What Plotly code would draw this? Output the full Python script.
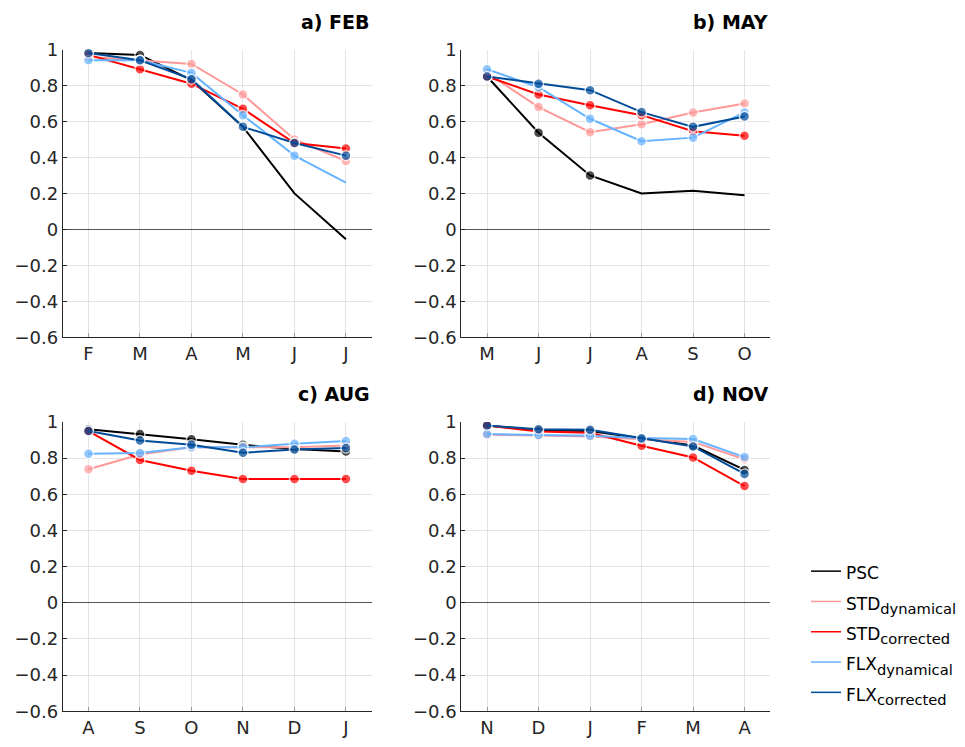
import plotly.graph_objects as go

# ---------------- data ----------------
FEB_LABELS = ["F", "M", "A", "M", "J", "J"]
MAY_LABELS = ["M", "J", "J", "A", "S", "O"]
AUG_LABELS = ["A", "S", "O", "N", "D", "J"]
NOV_LABELS = ["N", "D", "J", "F", "M", "A"]

FEB_PSC = [0.98, 0.97, 0.83, 0.57, 0.20, -0.055]
FEB_STD_DYN = [0.96, 0.94, 0.92, 0.75, 0.50, 0.38]
FEB_STD_COR = [0.97, 0.89, 0.81, 0.67, 0.48, 0.45]
FEB_FLX_DYN = [0.94, 0.94, 0.87, 0.635, 0.41, 0.26]
FEB_FLX_COR = [0.98, 0.94, 0.835, 0.57, 0.48, 0.41]

MAY_PSC = [0.85, 0.537, 0.30, 0.20, 0.215, 0.19]
MAY_STD_DYN = [0.87, 0.68, 0.54, 0.585, 0.65, 0.70]
MAY_STD_COR = [0.85, 0.75, 0.69, 0.635, 0.546, 0.52]
MAY_FLX_DYN = [0.89, 0.79, 0.615, 0.49, 0.51, 0.65]
MAY_FLX_COR = [0.85, 0.81, 0.774, 0.652, 0.57, 0.628]

AUG_PSC = [0.96, 0.933, 0.905, 0.874, 0.85, 0.837]
AUG_STD_DYN = [0.739, 0.82, 0.86, 0.86, 0.86, 0.87]
AUG_STD_COR = [0.95, 0.79, 0.73, 0.685, 0.685, 0.685]
AUG_FLX_DYN = [0.824, 0.828, 0.86, 0.86, 0.88, 0.895]
AUG_FLX_COR = [0.95, 0.898, 0.874, 0.83, 0.848, 0.856]

NOV_PSC = [0.98, 0.955, 0.95, 0.91, 0.87, 0.735]
NOV_STD_DYN = [0.93, 0.925, 0.92, 0.905, 0.89, 0.794]
NOV_STD_COR = [0.98, 0.948, 0.94, 0.869, 0.804, 0.646]
NOV_FLX_DYN = [0.933, 0.928, 0.924, 0.911, 0.906, 0.806]
NOV_FLX_COR = [0.981, 0.96, 0.957, 0.909, 0.865, 0.713]

# significance flags (1 = dot drawn)
FEB_SIG = {"PSC": [1, 1, 1, 0, 0, 0], "FLX_DYN": [1, 1, 1, 1, 1, 0]}
MAY_SIG = {"PSC": [1, 1, 1, 0, 0, 0]}
AUG_SIG = {}
NOV_SIG = {}

Y_TICKS = [-0.6, -0.4, -0.2, 0, 0.2, 0.4, 0.6, 0.8, 1]
Y_TICKTEXT = ["\u22120.6", "\u22120.4", "\u22120.2", "0", "0.2", "0.4", "0.6", "0.8", "1"]

MAIN = "<span style='font-size:17px'>%s</span>"
SERIES = [
    ("PSC", MAIN % "PSC", "#000000"),
    ("STD_DYN", MAIN % "STD" + "<sub>dynamical</sub>", "#ff9999"),
    ("STD_COR", MAIN % "STD" + "<sub>corrected</sub>", "#ff0000"),
    ("FLX_DYN", MAIN % "FLX" + "<sub>dynamical</sub>", "#66b3ff"),
    ("FLX_COR", MAIN % "FLX" + "<sub>corrected</sub>", "#004c99"),
]

PANELS = [
    ("a) FEB", FEB_LABELS, {"PSC": FEB_PSC, "STD_DYN": FEB_STD_DYN, "STD_COR": FEB_STD_COR,
                            "FLX_DYN": FEB_FLX_DYN, "FLX_COR": FEB_FLX_COR}, FEB_SIG),
    ("b) MAY", MAY_LABELS, {"PSC": MAY_PSC, "STD_DYN": MAY_STD_DYN, "STD_COR": MAY_STD_COR,
                            "FLX_DYN": MAY_FLX_DYN, "FLX_COR": MAY_FLX_COR}, MAY_SIG),
    ("c) AUG", AUG_LABELS, {"PSC": AUG_PSC, "STD_DYN": AUG_STD_DYN, "STD_COR": AUG_STD_COR,
                            "FLX_DYN": AUG_FLX_DYN, "FLX_COR": AUG_FLX_COR}, AUG_SIG),
    ("d) NOV", NOV_LABELS, {"PSC": NOV_PSC, "STD_DYN": NOV_STD_DYN, "STD_COR": NOV_STD_COR,
                            "FLX_DYN": NOV_FLX_DYN, "FLX_COR": NOV_FLX_COR}, NOV_SIG),
]

# ---------------- layout geometry (pixels) ----------------
W, H = 965, 747
X_DOMS = [(62.7, 371.7), (461.3, 770.3)]
Y_DOMS = [(49.5, 337.3), (422.0, 711.3)]

FONT = "DejaVu Sans"
AXC = "#262626"

fig = go.Figure()
layout = dict(
    width=W, height=H,
    margin=dict(l=0, r=0, t=0, b=0, pad=0, autoexpand=False),
    paper_bgcolor="white", plot_bgcolor="white",
    font=dict(family=FONT, size=18, color=AXC),
    showlegend=True,
    annotations=[],
)

for i, (title, labels, data, sig) in enumerate(PANELS):
    r, c = divmod(i, 2)
    ax = "" if i == 0 else str(i + 1)
    xd = [X_DOMS[c][0] / W, X_DOMS[c][1] / W]
    yd = [1 - Y_DOMS[r][1] / H, 1 - Y_DOMS[r][0] / H]
    xs = list(range(len(labels)))
    for key, name, color in SERIES:
        flags = sig.get(key, [1] * len(xs))
        fig.add_trace(go.Scatter(
            x=xs, y=data[key], mode="lines+markers",
            line=dict(color=color, width=2),
            marker=dict(size=[10 if f else 0 for f in flags], color=color,
                        line=dict(color="white", width=1.5)),
            showlegend=False, hoverinfo="skip",
            xaxis="x" + ax, yaxis="y" + ax,
        ))
    layout["xaxis" + ax] = dict(
        domain=xd, anchor="y" + ax, range=[-0.5, len(labels) - 0.5], automargin=False,
        tickvals=xs, ticktext=labels, showgrid=True, gridcolor="#e3e3e3", gridwidth=1,
        showline=True, linecolor=AXC, linewidth=1, ticks="inside", ticklen=4,
        tickcolor="#9a9a9a", zeroline=False, tickfont=dict(size=18, family=FONT, color=AXC),
    )
    layout["yaxis" + ax] = dict(
        domain=yd, anchor="x" + ax, range=[-0.6, 1], automargin=False,
        tickvals=Y_TICKS, ticktext=Y_TICKTEXT, showgrid=True, gridcolor="#e3e3e3", gridwidth=1,
        showline=True, linecolor=AXC, linewidth=1, ticks="inside", ticklen=4,
        tickcolor=AXC, zeroline=True, zerolinecolor="#555555", zerolinewidth=1,
        tickfont=dict(size=18, family=FONT, color=AXC),
    )
    layout["annotations"].append(dict(
        text="<b>" + title + "</b>", xref="paper", yref="paper",
        x=X_DOMS[c][1] / W, y=1 - (Y_DOMS[r][0] - 28) / H,
        xanchor="right", yanchor="middle", showarrow=False,
        font=dict(family=FONT, size=19, color="#000000"),
    ))

for j, (key, name, color) in enumerate(SERIES):
    fig.add_trace(go.Scatter(
        x=[None], y=[None], mode="lines", name=name, legendgroup="g%d" % j,
        line=dict(color=color, width=1.5), xaxis="x", yaxis="y",
    ))

layout["legend"] = dict(
    x=806 / W, y=1 - 551 / H, xanchor="left", yanchor="top",
    font=dict(family=FONT, size=21, color="#000000"),
    itemwidth=30, bgcolor="rgba(0,0,0,0)", tracegroupgap=0,
)

fig.update_layout(**layout)
fig.write_html("out.html", config={"displayModeBar": False},
               post_script="document.body.style.margin='0px';")
